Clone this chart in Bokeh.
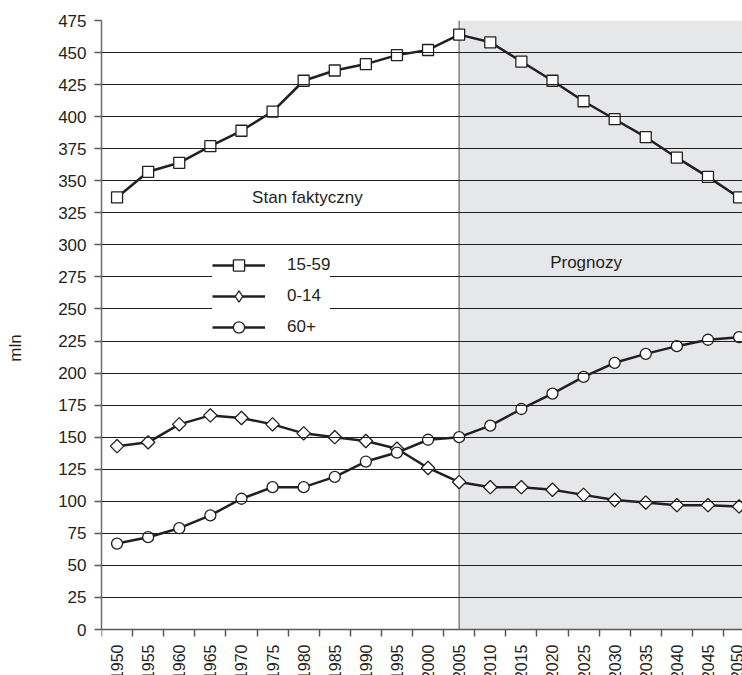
import math
from bokeh.plotting import figure
from bokeh.models import (FixedTicker, BoxAnnotation, Label, Legend, LegendItem, Range1d)
from bokeh.embed import file_html
from bokeh.resources import INLINE

years = [1950, 1955, 1960, 1965, 1970, 1975, 1980, 1985, 1990, 1995, 2000,
         2005, 2010, 2015, 2020, 2025, 2030, 2035, 2040, 2045, 2050]
age_15_59 = [337, 357, 364, 377, 389, 404, 428, 436, 441, 448, 452,
             464, 458, 443, 428, 412, 398, 384, 368, 353, 337]
age_0_14 = [143, 146, 160, 167, 165, 160, 153, 150, 147, 141, 126,
            115, 111, 111, 109, 105, 101, 99, 97, 97, 96]
age_60 = [67, 72, 79, 89, 102, 111, 111, 119, 131, 138, 148,
          150, 159, 172, 184, 197, 208, 215, 221, 226, 228]
year_labels = [str(y) for y in years]
y_ticks = list(range(0, 476, 25))
forecast_start = 2005
series_names = ["15-59", "0-14", "60+"]

DARK = "#231f20"
FONT = "Liberation Sans"
X0, X1 = 1947.5, 2050.55
Y_MIN, Y_MAX = 0, 475
PLOT_H = 609          # pixel height of the 0..475 band
BELOW = 46            # pixels kept under the zero line for the year labels
Y_START = Y_MIN - BELOW * (Y_MAX - Y_MIN) / PLOT_H

p = figure(width=742, height=675, output_backend="svg", toolbar_location=None,
           x_range=Range1d(X0, X1), y_range=Range1d(Y_START, Y_MAX),
           min_border_left=101, min_border_right=0, min_border_top=20,
           min_border_bottom=0)
p.outline_line_color = None
p.background_fill_color = "white"

# shaded forecast area
p.add_layout(BoxAnnotation(left=forecast_start, bottom=Y_MIN, fill_color="#e6e7e9",
                           fill_alpha=1, line_color=None, level="underlay"))
p.xgrid.visible = False
p.ygrid.ticker = FixedTicker(ticks=y_ticks)
p.ygrid.grid_line_color = DARK
p.ygrid.grid_line_width = 1
p.ygrid.level = "glyph"

# vertical divider at the start of the forecast
p.segment(x0=[forecast_start], y0=[Y_MIN], x1=[forecast_start], y1=[Y_MAX],
          line_color="#808285", line_width=1.5)

# x axis fixed at zero: ticks at category boundaries, year labels below
xa = p.xaxis[0]
xa.fixed_location = Y_MIN
xa.ticker = FixedTicker(ticks=years, minor_ticks=[y - 2.5 for y in years] + [years[-1] + 2.5])
xa.major_label_overrides = dict(zip(years, year_labels))
xa.major_label_orientation = math.pi / 2
xa.major_label_standoff = 8
xa.major_label_text_font = FONT
xa.major_label_text_font_size = "16px"
xa.major_label_text_color = DARK
xa.major_tick_out = 0
xa.major_tick_in = 0
xa.minor_tick_out = 7
xa.minor_tick_in = 0
xa.axis_line_color = "#58595b"
xa.axis_line_width = 1.5
xa.minor_tick_line_color = "#58595b"
xa.minor_tick_line_width = 1.5

ya = p.yaxis[0]
ya.bounds = (Y_MIN, Y_MAX)
ya.ticker = FixedTicker(ticks=y_ticks)
ya.major_tick_out = 7
ya.major_tick_in = 0
ya.minor_tick_out = 0
ya.minor_tick_in = 0
ya.major_label_standoff = 8
ya.major_label_text_font = FONT
ya.major_label_text_font_size = "17px"
ya.major_label_text_color = DARK
ya.axis_line_color = "#6d6e71"
ya.axis_line_width = 1.5
ya.major_tick_line_color = "#58595b"
ya.major_tick_line_width = 1.5
ya.axis_label = "mln"
ya.axis_label_text_font = FONT
ya.axis_label_text_font_size = "17px"
ya.axis_label_text_font_style = "normal"
ya.axis_label_text_color = DARK
ya.axis_label_standoff = 30

# series
l1 = p.line(years, age_15_59, line_color=DARK, line_width=2.5)
s1 = p.scatter(years, age_15_59, marker="square", size=11, fill_color="white",
               line_color=DARK, line_width=1.3)
l2 = p.line(years, age_0_14, line_color=DARK, line_width=2.5)
# legend symbol for 0-14 (legend ignores marker angle); hidden under the plot diamonds
d_proxy = p.scatter(years, age_0_14, marker="diamond", size=6, fill_color="white",
                    line_color=DARK, line_width=1.3)
s2 = p.scatter(years, age_0_14, marker="square", angle=math.pi / 4, size=9.5,
               fill_color="white", line_color=DARK, line_width=1.3)
l3 = p.line(years, age_60, line_color=DARK, line_width=2.5)
s3 = p.scatter(years, age_60, marker="circle", size=11, fill_color="white",
               line_color=DARK, line_width=1.3)

legend = Legend(items=[LegendItem(label=series_names[0], renderers=[l1, s1]),
                       LegendItem(label=series_names[1], renderers=[l2, d_proxy]),
                       LegendItem(label=series_names[2], renderers=[l3, s3])],
                location=(111, 334), glyph_width=53, glyph_height=28,
                label_height=28, label_standoff=22, padding=0, spacing=3,
                margin=0, border_line_color=None, background_fill_color="white",
                background_fill_alpha=1, label_text_font=FONT,
                label_text_font_size="17px", label_text_color=DARK)
p.add_layout(legend)

p.add_layout(Label(x=1980.6, y=337, text="Stan faktyczny", text_align="center",
                   text_baseline="middle", text_font=FONT, text_font_size="17px",
                   text_color=DARK))
p.add_layout(Label(x=2025.4, y=286, text="Prognozy", text_align="center",
                   text_baseline="middle", text_font=FONT, text_font_size="17px",
                   text_color=DARK))

open("out.html", "w").write(file_html(p, INLINE))
